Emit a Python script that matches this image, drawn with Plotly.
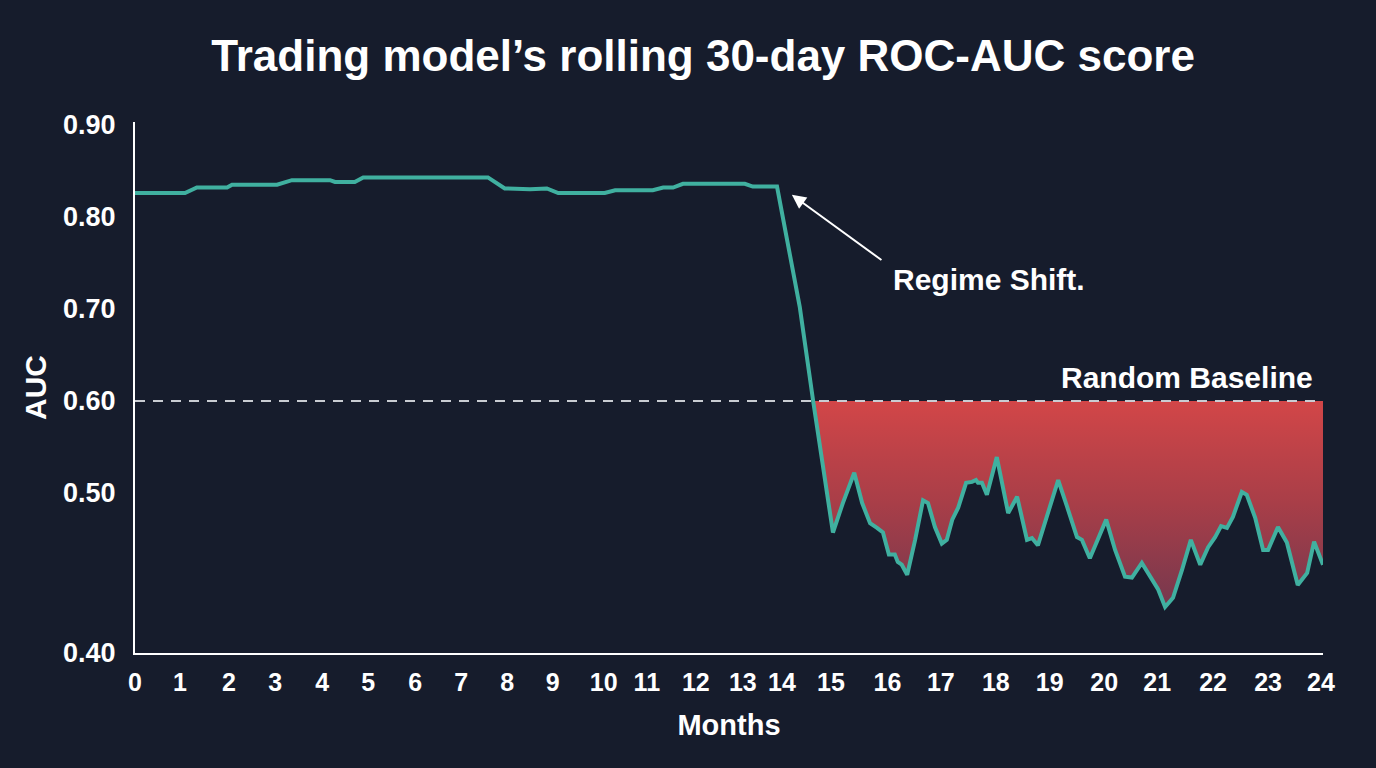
import plotly.graph_objects as go

# ---- data ----
MONTHS = [0.00, 1.01, 1.25, 1.86, 1.96, 2.87, 3.17, 3.94, 4.04, 4.44, 4.61, 7.13,
          7.47, 7.98, 8.32, 8.55, 9.49, 9.70, 10.46, 10.67, 10.87, 11.07, 12.32,
          12.48, 12.97, 13.29, 13.43, 13.70, 14.10, 14.30, 14.53, 14.69, 14.85,
          14.99, 15.11, 15.23, 15.35, 15.41, 15.49, 15.60, 15.76, 15.92, 16.02,
          16.16, 16.30, 16.40, 16.51, 16.63, 16.79, 16.91, 16.99, 17.03, 17.11,
          17.21, 17.41, 17.64, 17.82, 18.02, 18.12, 18.24, 18.44, 18.65, 18.83,
          19.03, 19.13, 19.29, 19.62, 19.80, 20.00, 20.14, 20.34, 20.46, 20.67,
          20.81, 20.97, 21.15, 21.33, 21.52, 21.68, 21.82, 21.94, 22.06, 22.18,
          22.36, 22.46, 22.63, 22.79, 22.89, 23.09, 23.27, 23.49, 23.68, 23.82,
          24.00]
AUC = [0.826, 0.826, 0.832, 0.832, 0.835, 0.835, 0.840, 0.840, 0.838, 0.838, 0.843, 0.843,
       0.831, 0.830, 0.831, 0.826, 0.826, 0.829, 0.829, 0.832, 0.832, 0.836, 0.836,
       0.833, 0.833, 0.742, 0.702, 0.600, 0.457, 0.489, 0.522, 0.489, 0.467,
       0.462, 0.457, 0.433, 0.433, 0.425, 0.422, 0.411, 0.449, 0.492, 0.489,
       0.463, 0.445, 0.449, 0.471, 0.484, 0.511, 0.512, 0.514, 0.511, 0.511,
       0.498, 0.539, 0.478, 0.496, 0.449, 0.451, 0.443, 0.478, 0.514, 0.485,
       0.452, 0.449, 0.429, 0.471, 0.438, 0.409, 0.408, 0.424, 0.413, 0.395,
       0.376, 0.386, 0.416, 0.449, 0.422, 0.441, 0.452, 0.464, 0.462, 0.474,
       0.501, 0.498, 0.473, 0.438, 0.438, 0.463, 0.446, 0.400, 0.413, 0.447,
       0.422]
BASELINE = 0.60
TICK_LABELS = [str(m) for m in range(25)]
TICK_POS = [0.00, 0.91, 1.90, 2.83, 3.78, 4.71, 5.66, 6.59, 7.52, 8.44, 9.47, 10.34,
            11.33, 12.28, 13.07, 14.06, 15.20, 16.28, 17.39, 18.48, 19.58, 20.65,
            21.78, 22.89, 23.96]
Y_TICK_VALS = [0.326, 0.50, 0.60, 0.70, 0.80, 0.90]
Y_TICK_TEXT = ["0.40", "0.50", "0.60", "0.70", "0.80", "0.90"]

BG = "#161c2c"
TEAL = "#40b0a0"
FONT = "Liberation Sans, Arial, sans-serif"

# fill polygon below the baseline (from first crossing to the end)
start = next(i for i, v in enumerate(AUC) if v <= BASELINE)
fill_x = MONTHS[start:] + [MONTHS[-1], MONTHS[start]]
fill_y = AUC[start:] + [BASELINE, BASELINE]

fig = go.Figure()
fig.add_trace(go.Scatter(
    x=fill_x, y=fill_y, mode="lines", line=dict(width=0),
    fill="toself",
    fillgradient=dict(type="vertical",
                      colorscale=[[0, "rgb(118,56,78)"], [0.5, "rgb(168,62,72)"],
                                  [1, "rgb(210,70,72)"]]),
    hoverinfo="skip", showlegend=False))
fig.add_trace(go.Scatter(
    x=[0, 24], y=[BASELINE, BASELINE], mode="lines",
    line=dict(color="#c9ccd2", width=2, dash="10px,8px"),
    hoverinfo="skip", showlegend=False))
fig.add_trace(go.Scatter(
    x=MONTHS, y=AUC, mode="lines",
    line=dict(color=TEAL, width=4),
    showlegend=False))

fig.add_annotation(x=13.27, y=0.824, ax=15.11, ay=0.752, xref="x", yref="y",
                   axref="x", ayref="y", text="", showarrow=True,
                   arrowhead=2, arrowsize=1.4, arrowwidth=2, arrowcolor="white")
fig.add_annotation(x=17.25, y=0.7315, xref="x", yref="y", text="Regime Shift.",
                   showarrow=False,
                   font=dict(family=FONT, size=30, color="white", weight="bold"))
fig.add_annotation(x=23.84, y=0.626, xref="x", yref="y", text="Random Baseline",
                   xanchor="right", showarrow=False,
                   font=dict(family=FONT, size=30, color="white", weight="bold"))

fig.update_layout(
    width=1376, height=768,
    paper_bgcolor=BG, plot_bgcolor=BG,
    margin=dict(l=135, r=53, t=122, b=115),
    title=dict(text="Trading model’s rolling 30-day ROC-AUC score",
               x=0.511, xanchor="center", y=0.927, yanchor="middle",
               font=dict(family=FONT, size=44, color="white", weight="bold")),
    font=dict(family=FONT, color="white"),
)
fig.update_xaxes(range=[0, 24], showgrid=False, zeroline=False,
                 showline=True, linecolor="white", linewidth=2,
                 tickmode="array", tickvals=TICK_POS, ticktext=TICK_LABELS,
                 tickfont=dict(family=FONT, size=25, color="white", weight="bold"),
                 ticks="", ticklabelstandoff=6,
                 title=dict(text="Months", standoff=20,
                            font=dict(family=FONT, size=29, color="white", weight="bold")))
fig.update_yaxes(range=[0.326, 0.9032], showgrid=False, zeroline=False,
                 showline=True, linecolor="white", linewidth=2,
                 tickmode="array", tickvals=Y_TICK_VALS, ticktext=Y_TICK_TEXT,
                 tickfont=dict(family=FONT, size=27, color="white", weight="bold"),
                 ticks="", ticklabelstandoff=12,
                 title=dict(text="AUC", standoff=8,
                            font=dict(family=FONT, size=30, color="white", weight="bold")))

fig.write_html("out.html")
